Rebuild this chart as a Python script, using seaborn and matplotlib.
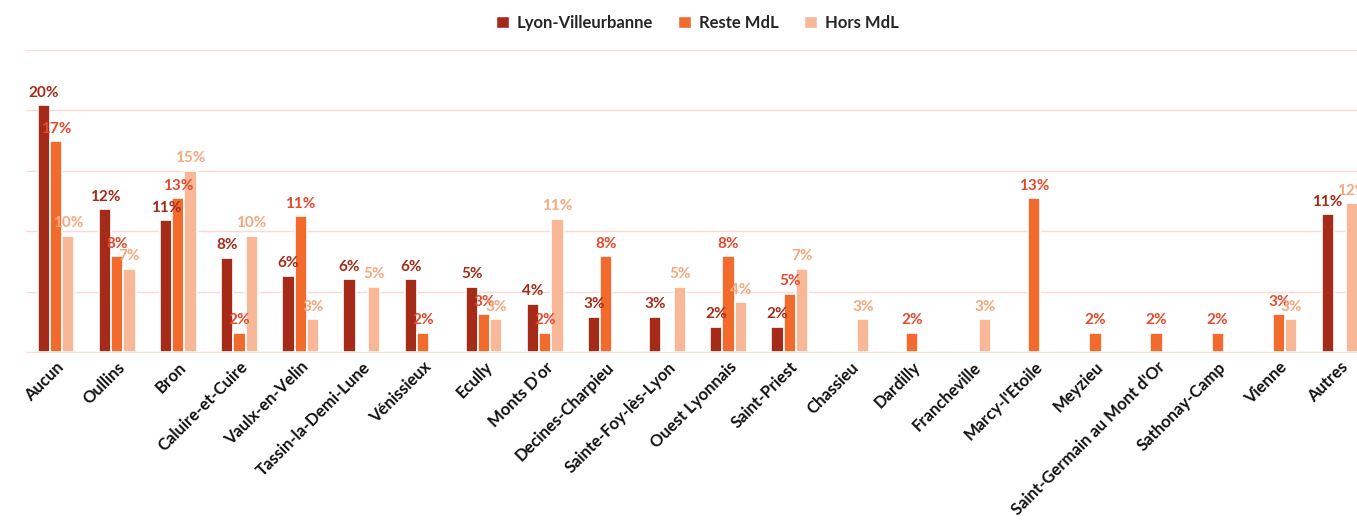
import pandas as pd
import matplotlib.pyplot as plt
import seaborn as sns
from matplotlib.patches import Patch

# Communes (x axis)
communes = ["Aucun", "Oullins", "Bron", "Caluire-et-Cuire", "Vaulx-en-Velin",
            "Tassin-la-Demi-Lune", "Vénissieux", "Ecully", "Monts D\u2019or",
            "Decines-Charpieu", "Sainte-Foy-lès-Lyon", "Ouest Lyonnais",
            "Saint-Priest", "Chassieu", "Dardilly", "Francheville",
            "Marcy-l'Etoile", "Meyzieu", "Saint-Germain au Mont d'Or",
            "Sathonay-Camp", "Vienne", "Autres"]

# Values in %
lyon_villeurbanne = [20.4, 11.8, 10.9, 7.8, 6.3, 6.0, 6.0, 5.4, 4.0, 2.9, 2.9,
                     2.1, 2.1, 0, 0, 0, 0, 0, 0, 0, 0, 11.4]
reste_mdl = [17.4, 7.9, 12.7, 1.6, 11.2, 0, 1.6, 3.1, 1.6, 7.9, 0,
             7.9, 4.8, 0, 1.6, 0, 12.7, 1.6, 1.6, 1.6, 3.1, 0]
hors_mdl = [9.6, 6.9, 15.0, 9.6, 2.7, 5.4, 0, 2.7, 11.0, 0, 5.4,
            4.1, 6.9, 2.7, 0, 2.7, 0, 0, 0, 0, 2.7, 12.3]

series = ["Lyon-Villeurbanne", "Reste MdL", "Hors MdL"]
bar_colors = ["#A52A18", "#F26A2C", "#F8B898"]
label_colors = ["#A52A18", "#E8482C", "#F5A77E"]

df = pd.DataFrame({
    "commune": communes * 3,
    "serie": [s for s in series for _ in communes],
    "value": lyon_villeurbanne + reste_mdl + hors_mdl,
})

sns.set_style("white")
plt.rcParams["font.family"] = ["Lato", "DejaVu Sans"]

fig = plt.figure(figsize=(13.57, 5.24), dpi=100)
# axes runs past the right edge, like the cropped original
ax = fig.add_axes([25.5 / 1357, 172 / 524, 1345 / 1357, 302.5 / 524])

sns.barplot(data=df, x="commune", y="value", hue="serie", order=communes,
            hue_order=series, palette=bar_colors, width=0.6, saturation=1,
            edgecolor="white", linewidth=1.2, ax=ax, legend=False)

ax.set_ylim(0, 25)
ax.set_xlim(-0.5, len(communes) - 0.5)
ax.set_yticks([0, 5, 10, 15, 20, 25])
ax.yaxis.grid(True, color="#F8DCD4", linewidth=1)
ax.set_axisbelow(True)
ax.tick_params(axis="y", left=False, labelleft=False)
ax.tick_params(axis="x", length=0, pad=5)
for s in ["top", "right", "left"]:
    ax.spines[s].set_visible(False)
ax.spines["bottom"].set_color("#F8DCD4")
ax.set_xlabel("")
ax.set_ylabel("")
plt.setp(ax.get_xticklabels(), rotation=45, ha="right", rotation_mode="anchor",
         fontsize=12, fontweight="bold", color="#111111")

# data labels
vals = [lyon_villeurbanne, reste_mdl, hors_mdl]
for cont, v, c in zip(ax.containers, vals, label_colors):
    labels = [f"{round(x):d}%" if x > 0 else "" for x in v]
    ax.bar_label(cont, labels=labels, padding=4, color=c, fontsize=11,
                 fontweight="bold")

handles = [Patch(facecolor=c, label=s) for s, c in zip(series, bar_colors)]
fig.legend(handles=handles, loc="center", bbox_to_anchor=(0.514, 0.957),
           ncol=3, frameon=False, handlelength=0.75, handleheight=0.75,
           handletextpad=0.5, columnspacing=1.5,
           prop={"weight": "bold", "size": 12})

fig.savefig("out.png", dpi=100)
